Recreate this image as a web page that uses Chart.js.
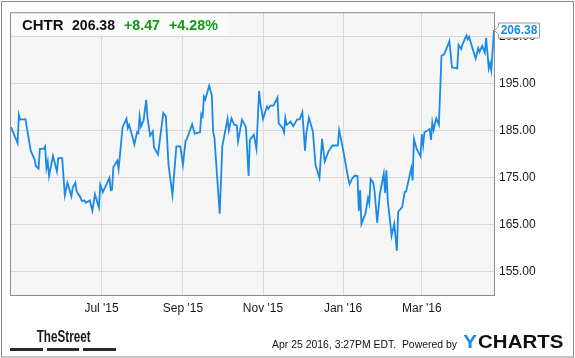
<!DOCTYPE html>
<html><head><meta charset="utf-8">
<script src="https://cdn.jsdelivr.net/npm/chart.js@4"></script>
<style>html,body{margin:0;padding:0;background:#fff;}canvas{display:block}</style>
</head><body>
<canvas id="c" width="575" height="358"></canvas>
<script>
const symbol = 'CHTR';
const lastPrice = 206.38;
const change = 8.47;
const changePct = 4.28;
const stamp = 'Apr 25 2016, 3:27PM EDT.  Powered by';
const xRange = ['2015-04-23', '2016-04-25'];
const tickDates = ['2015-07-01','2015-09-01','2015-11-01','2016-01-01','2016-03-01'];
const tickLabels = ["Jul '15","Sep '15","Nov '15","Jan '16","Mar '16"];
const yTicks = [155,165,175,185,195,205];
const yRange = [150, 210.15];
const dates = [
'2015-04-23','2015-04-28','2015-04-29','2015-04-30','2015-05-04','2015-05-06','2015-05-08','2015-05-11','2015-05-12','2015-05-14',
'2015-05-15','2015-05-18','2015-05-19','2015-05-20','2015-05-21','2015-05-22','2015-05-25','2015-05-28','2015-05-29','2015-06-01',
'2015-06-03','2015-06-05','2015-06-08','2015-06-09','2015-06-11','2015-06-12','2015-06-15','2015-06-16','2015-06-18','2015-06-19',
'2015-06-22','2015-06-24','2015-06-26','2015-06-29','2015-06-30','2015-07-02','2015-07-07','2015-07-08','2015-07-09','2015-07-10',
'2015-07-13','2015-07-14','2015-07-17','2015-07-20','2015-07-21','2015-07-22','2015-07-24','2015-07-26','2015-07-28','2015-07-29',
'2015-07-30','2015-07-31','2015-08-02','2015-08-04','2015-08-05','2015-08-07','2015-08-09','2015-08-10','2015-08-13','2015-08-17',
'2015-08-19','2015-08-21','2015-08-24','2015-08-27','2015-08-30','2015-09-01','2015-09-03','2015-09-04','2015-09-08','2015-09-10',
'2015-09-14','2015-09-15','2015-09-16','2015-09-17','2015-09-18','2015-09-21','2015-09-23','2015-09-24','2015-09-25','2015-09-29',
'2015-10-01','2015-10-05','2015-10-06','2015-10-08','2015-10-10','2015-10-12','2015-10-13','2015-10-16','2015-10-19','2015-10-21',
'2015-10-22','2015-10-25','2015-10-27','2015-10-29','2015-10-30','2015-11-01','2015-11-04','2015-11-05','2015-11-06','2015-11-07',
'2015-11-09','2015-11-12','2015-11-13','2015-11-16','2015-11-17','2015-11-18','2015-11-19','2015-11-21','2015-11-22','2015-11-24',
'2015-11-27','2015-11-29','2015-12-01','2015-12-03','2015-12-04','2015-12-06','2015-12-09','2015-12-11','2015-12-14','2015-12-16',
'2015-12-18','2015-12-21','2015-12-24','2015-12-28','2015-12-29','2015-12-30','2016-01-01','2016-01-05','2016-01-06','2016-01-08',
'2016-01-10','2016-01-12','2016-01-13','2016-01-14','2016-01-15','2016-01-18','2016-01-20','2016-01-21','2016-01-22','2016-01-24',
'2016-01-25','2016-01-27','2016-01-29','2016-02-01','2016-02-02','2016-02-03','2016-02-04','2016-02-07','2016-02-09','2016-02-11',
'2016-02-12','2016-02-15','2016-02-17','2016-02-18','2016-02-22','2016-02-23','2016-02-24','2016-02-26','2016-02-29','2016-03-01',
'2016-03-02','2016-03-03','2016-03-06','2016-03-07','2016-03-08','2016-03-09','2016-03-10','2016-03-12','2016-03-14','2016-03-16',
'2016-03-18','2016-03-20','2016-03-22','2016-03-24','2016-03-26','2016-03-28','2016-03-29','2016-03-31','2016-04-01','2016-04-04',
'2016-04-05','2016-04-06','2016-04-09','2016-04-11','2016-04-13','2016-04-14','2016-04-16','2016-04-18','2016-04-19','2016-04-21',
'2016-04-22','2016-04-23','2016-04-25'
];
const prices = [
185.7,182.3,188.3,187.3,187.4,184.1,180.7,178.8,177.4,176.9,
181.1,181.1,181.6,177.0,178.4,175.3,179.6,176.3,179.1,179.1,
171.2,173.9,171.0,172.8,173.9,172.1,170.7,170.0,170.1,169.6,
170.1,167.9,171.4,168.6,173.5,171.9,174.9,172.3,172.4,177.2,
178.6,176.8,185.7,187.5,185.5,186.2,184.2,182.0,184.6,184.4,
188.0,185.8,187.1,191.5,187.6,183.9,184.8,181.4,179.9,188.7,
188.0,177.7,171.3,181.6,181.6,177.7,182.8,183.2,186.3,184.3,
184.6,188.5,188.0,192.2,191.6,194.5,192.5,184.8,183.4,167.3,
181.6,187.5,185.0,187.6,186.2,186.1,182.7,187.3,185.7,175.3,
183.0,184.1,181.1,193.4,190.8,187.4,190.1,189.6,190.1,190.3,
190.3,192.0,186.5,185.5,184.6,187.7,186.2,186.6,186.9,185.9,
187.3,187.4,188.9,180.7,184.4,187.7,184.8,177.7,174.9,183.2,
178.4,180.6,181.8,181.8,185.1,183.8,180.9,174.7,173.6,174.8,
175.4,175.3,167.9,172.3,165.1,167.3,170.6,169.5,174.7,173.9,
172.1,165.4,171.4,175.8,171.7,176.5,170.3,162.6,165.1,159.4,
167.7,168.7,171.9,172.0,177.0,174.4,183.2,181.1,179.5,184.2,
181.8,184.6,185.1,185.3,183.0,186.7,185.1,187.6,186.2,200.9,
201.2,202.5,204.0,198.4,198.3,198.2,203.2,202.3,203.3,205.2,
204.4,204.9,202.1,200.3,202.5,201.7,203.0,201.6,204.7,198.2,
199.3,197.8,206.38
];

const toMs = s => { const p = s.split('-').map(Number); return Date.UTC(p[0], p[1]-1, p[2]); };
const FONT = '"Liberation Sans", Arial, sans-serif';
const BLUE = '#1a8ae6';

function fitText(ctx, text, x, y, width) {
  const w = ctx.measureText(text).width;
  ctx.save();
  ctx.translate(x, y);
  ctx.scale(width / w, 1);
  ctx.fillText(text, 0, 0);
  ctx.restore();
}

const decor = {
  id: 'decor',
  beforeDraw(chart) {
    const ctx = chart.ctx, a = chart.chartArea;
    ctx.save();
    ctx.fillStyle = '#fff';
    ctx.fillRect(0, 0, chart.width, chart.height);
    ctx.fillStyle = '#f6f6f6';
    ctx.fillRect(a.left - 1, a.top, a.right - a.left + 1, a.bottom - a.top);
    ctx.restore();
  },
  afterDraw(chart) {
    const ctx = chart.ctx, a = chart.chartArea;
    ctx.save();
    // header box
    ctx.fillStyle = '#fbfbfb';
    ctx.fillRect(a.left, a.top + 1, 217, 22);
    ctx.font = 'bold 15px ' + FONT;
    ctx.textAlign = 'left';
    ctx.textBaseline = 'alphabetic';
    ctx.fillStyle = '#111';
    fitText(ctx, symbol, 22, 29.5, 41.5);
    fitText(ctx, lastPrice.toFixed(2), 72, 29.5, 43);
    ctx.fillStyle = '#119911';
    fitText(ctx, '+' + change.toFixed(2), 124, 29.5, 36);
    fitText(ctx, '+' + changePct.toFixed(2) + '%', 169, 29.5, 49);
    // plot border
    ctx.strokeStyle = '#8c8c8c';
    ctx.lineWidth = 1;
    ctx.strokeRect(a.left - 0.5, a.top + 0.5, a.right - a.left + 1, a.bottom - a.top);
    // price tag
    const ty = Math.round(chart.scales.y.getPixelForValue(prices[prices.length - 1])) + 0.5;
    const bx = a.right + 4.5, bw = 41, bh = 15;
    ctx.beginPath();
    ctx.moveTo(a.right + 0.5, ty);
    ctx.lineTo(bx, ty - 4);
    ctx.lineTo(bx, ty - bh / 2);
    ctx.lineTo(bx + bw, ty - bh / 2);
    ctx.lineTo(bx + bw, ty + bh / 2);
    ctx.lineTo(bx, ty + bh / 2);
    ctx.lineTo(bx, ty + 4);
    ctx.closePath();
    ctx.fillStyle = '#fff';
    ctx.fill();
    ctx.strokeStyle = '#999';
    ctx.stroke();
    ctx.fillStyle = BLUE;
    ctx.font = 'bold 12px ' + FONT;
    ctx.textAlign = 'center';
    ctx.textBaseline = 'middle';
    ctx.fillText(lastPrice.toFixed(2), bx + bw / 2, ty + 0.5);
    // outer border
    ctx.strokeStyle = '#8c8c8c';
    ctx.lineWidth = 1;
    ctx.strokeRect(1.5, 1.5, chart.width - 3, chart.height - 2.5);
    // TheStreet logo
    ctx.textAlign = 'left';
    ctx.textBaseline = 'alphabetic';
    ctx.font = 'bold 16px ' + FONT;
    ctx.fillStyle = '#1a1a1a';
    fitText(ctx, 'TheStreet', 36.7, 342, 54);
    ctx.fillStyle = '#2a2a2a';
    ctx.fillRect(10, 348, 33, 3);
    ctx.fillRect(47, 348, 32, 3);
    ctx.fillRect(83, 348, 33, 3);
    // stamp
    ctx.font = '11.5px ' + FONT;
    ctx.fillStyle = '#111';
    fitText(ctx, stamp, 272, 347.5, 185);
    // YCHARTS logo
    ctx.font = 'bold 17.5px ' + FONT;
    const wy = ctx.measureText('Y').width, wc = ctx.measureText('CHARTS').width;
    const sc = 100 / (wy + wc + 1);
    ctx.save();
    ctx.translate(463.3, 347.5);
    ctx.scale(sc, 1);
    ctx.fillStyle = BLUE;
    ctx.fillText('Y', 0, 0);
    ctx.fillStyle = '#111';
    ctx.fillText('CHARTS', wy + 1, 0);
    ctx.restore();
    ctx.restore();
  }
};

new Chart(document.getElementById('c'), {
  type: 'line',
  data: {
    datasets: [{
      data: dates.map((d, i) => ({ x: toMs(d), y: prices[i] })),
      borderColor: BLUE,
      borderWidth: 1.8,
      pointRadius: 0,
      tension: 0,
      fill: false
    }]
  },
  options: {
    responsive: false,
    animation: false,
    devicePixelRatio: 1,
    layout: { padding: { left: 11, top: 10, right: 0, bottom: 0 } },
    plugins: { legend: { display: false }, tooltip: { enabled: false } },
    scales: {
      x: {
        type: 'linear',
        min: toMs(xRange[0]),
        max: toMs(xRange[1]),
        afterBuildTicks: ax => { ax.ticks = tickDates.map(d => ({ value: toMs(d) })); },
        afterFit: ax => { ax.height = 63; },
        ticks: {
          autoSkip: false, maxRotation: 0, padding: 6,
          color: '#1a1a1a', font: { family: FONT, size: 12 },
          callback: (v, i) => tickLabels[i]
        },
        grid: { color: '#d9d9d9', drawTicks: false, lineWidth: 1 },
        border: { display: false }
      },
      y: {
        position: 'right',
        min: yRange[0],
        max: yRange[1],
        afterBuildTicks: ax => { ax.ticks = yTicks.map(v => ({ value: v })); },
        afterFit: ax => { ax.width = 81; },
        ticks: {
          padding: 5, color: '#1a1a1a', font: { family: FONT, size: 12 },
          callback: v => Number(v).toFixed(2)
        },
        grid: { color: '#d9d9d9', drawTicks: false, lineWidth: 1 },
        border: { display: false }
      }
    }
  },
  plugins: [decor]
});
</script>
</body></html>
